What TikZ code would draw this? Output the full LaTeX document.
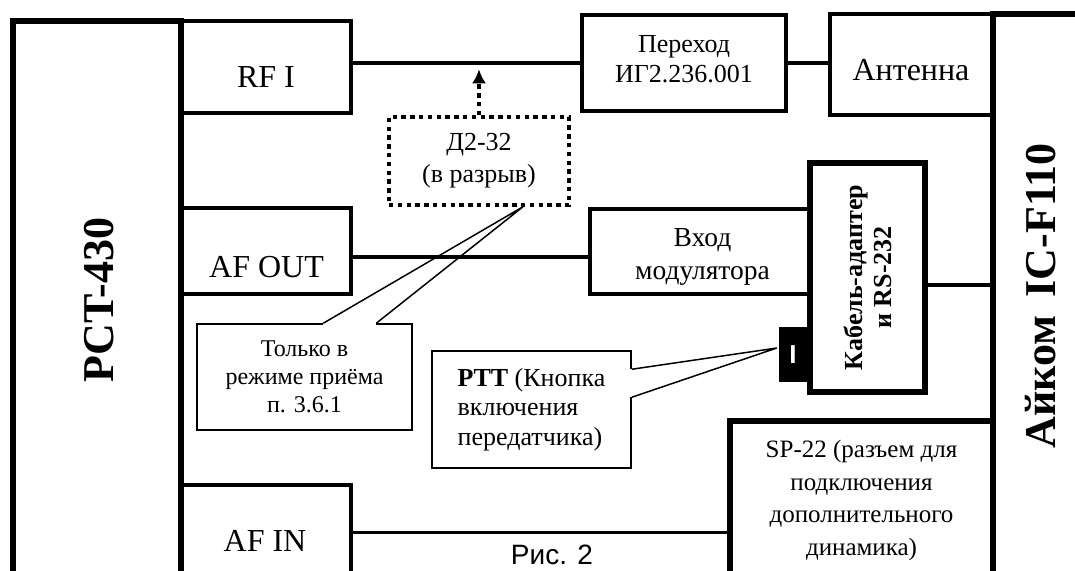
\documentclass[tikz,border=0pt]{standalone}
\usepackage{fontspec}
\setmainfont{Liberation Serif}
\newfontfamily\capfont{Liberation Sans}
\usetikzlibrary{arrows.meta,calc}

\tikzset{
  unit/.style={draw, line width=6pt, inner sep=0pt},
  port/.style={draw, line width=4pt, inner sep=0pt},
  note/.style={draw, line width=1.5pt, fill=white, inner sep=0pt},
  wire/.style={line width=3.6pt},
  ptr/.style={line width=1.5pt},
  dots/.style={dash pattern=on 4.4pt off 4.4pt},
  portlabel/.style={font=\fontsize{32}{38}\selectfont, inner sep=0pt},
  blocklabel/.style={font=\fontsize{26}{31.5}\selectfont, align=center, inner sep=0pt},
  devlabel/.style={rotate=90, font=\bfseries\fontsize{44}{50}\selectfont, inner sep=0pt}
}

\begin{document}
\begin{tikzpicture}[x=1pt,y=-1pt]
  \useasboundingbox (0,0) rectangle (1075,570);
  \clip (0,0) rectangle (1075,570);

  % radio stations
  \node[unit, minimum width=168pt, minimum height=559pt] (pct) at (97,300.5) {};
  \node[devlabel] (pctname) at (99,300) {PCT-430};
  \node[unit, minimum width=87pt, minimum height=566pt] (icf) at (1036.5,297) {};
  \node[devlabel] (icfname) at (1041,296) {Айком~\,IC-F110};

  % ports of PCT-430
  \node[port, minimum width=170pt, minimum height=92pt] (rfi) at (266,67) {};
  \node[portlabel] (rfiname) at (266,76.6) {RF I};
  \node[port, minimum width=170pt, minimum height=86pt] (afout) at (266,251) {};
  \node[portlabel] (afoutname) at (266.5,267) {AF OUT};
  \node[port, minimum width=170pt, minimum height=95pt] (afin) at (266,532.5) {};
  \node[portlabel] (afinname) at (265,541) {AF IN};

  % RF path
  \node[port, minimum width=204pt, minimum height=96pt] (perehod) at (684,62.75) {};
  \node[blocklabel, font=\fontsize{26}{30}\selectfont] (perehodname) at (684,59)
    {Переход\\ИГ2.236.001};
  \node[port, minimum width=163pt, minimum height=101pt] (antenna) at (911.5,64.5) {};
  \node[portlabel] (antennaname) at (911,70) {Антенна};
  \node[port, dots, line width=3.5pt, minimum width=180pt, minimum height=88pt,
    blocklabel, font=\fontsize{26}{32}\selectfont] (d232) at (479,161)
    {Д2-32\\(в разрыв)};

  % modulator, adapter, speaker
  \node[port, minimum width=220pt, minimum height=85pt] (vhod) at (700,251.5) {};
  \node[blocklabel, font=\fontsize{27.5}{33}\selectfont] (vhodname) at (702.5,257)
    {Вход\\модулятора};
  \node[unit, line width=5.5pt, minimum width=115pt, minimum height=229pt] (cable) at (867.5,277.5) {};
  \node[rotate=90, align=center, inner sep=0pt,
    font=\bfseries\fontsize{26}{29}\selectfont] (cablename) at (cable) {Кабель-адаптер\\и RS-232};
  \node[fill=black, minimum width=28pt, minimum height=55pt, inner sep=0pt] (pttbtn) at (793,354.5) {};
  \node[text=white, inner sep=0pt, font=\capfont\bfseries\fontsize{26}{30}\selectfont] (pttmark) at (pttbtn) {I};
  \node[unit, line width=5.5pt, minimum width=263pt, minimum height=159pt, align=center,
    font=\fontsize{25}{32.5}\selectfont] (sp22) at (861.5,500.5)
    {SP-22 (разъем для\\подключения\\дополнительного\\динамика)};

  % notes
  \node[note, minimum width=215pt, minimum height=106pt, align=center,
    font=\fontsize{24}{28.3}\selectfont] (recv) at (304.5,377)
    {Только в\\режиме приёма\\п. 3.6.1};
  \coordinate (recvtip) at ($(d232.south)+(44,0)$);
  \coordinate (recva) at ($(recv.north west)+(127,0)$);
  \coordinate (recvb) at ($(recv.north west)+(180,0)$);
  \fill[white] ($(recva)+(0,-1.5)$) rectangle ($(recvb)+(0,1.5)$);
  \draw[ptr] (recva) -- (recvtip) -- (recvb);

  \node[note, minimum width=199pt, minimum height=117pt, align=left,
    font=\fontsize{26}{29.5}\selectfont] (ptt) at (531.5,409.5)
    {\textbf{PTT} (Кнопка\\включения\\передатчика)};
  \coordinate (ptttip) at ($(pttbtn.west)+(-2,-6.5)$);
  \coordinate (ptta) at ($(ptt.north east)+(0,19)$);
  \coordinate (pttb) at ($(ptt.north east)+(0,47)$);
  \fill[white] ($(ptta)+(-1.5,0)$) rectangle ($(pttb)+(1.5,0)$);
  \draw[ptr] (ptta) -- (ptttip) -- (pttb);

  % wires
  \draw[wire] (rfi.east |- perehod.west) -- (perehod.west);
  \draw[wire] (perehod.east) -- (perehod.east -| antenna.west);
  \draw[wire, dots, -{Latex[length=14pt,width=14pt]}] (d232.north) -- ++(0,-46);
  \coordinate (afoutpin) at ([yshift=-6pt]afout.east);
  \draw[wire] (afoutpin) -- (afoutpin -| vhod.west);
  \coordinate (cablepin) at ([yshift=-7.5pt]cable.east);
  \draw[wire] (cablepin) -- (cablepin -| icf.west);
  \draw[wire] (afin.east) -- (afin.east -| sp22.west);

  \node[font=\capfont\fontsize{28}{32}\selectfont, anchor=base, inner sep=0pt] (fig) at (552,564) {Рис. 2};
\end{tikzpicture}
\end{document}
